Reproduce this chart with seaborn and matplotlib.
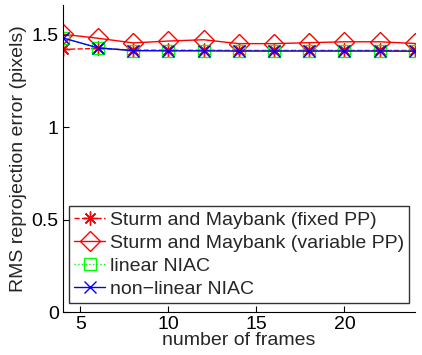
import matplotlib
matplotlib.use("Agg")
import matplotlib.pyplot as plt
import seaborn as sns
import pandas as pd

frames = [4, 6, 8, 10, 12, 14, 16, 18, 20, 22, 24]
fixed_pp = [1.420, 1.425, 1.416, 1.415, 1.415, 1.414, 1.414, 1.414, 1.414, 1.414, 1.414]
variable_pp = [1.502, 1.480, 1.455, 1.465, 1.472, 1.451, 1.451, 1.456, 1.461, 1.461, 1.452]
linear_niac = [1.480, 1.430, 1.413, 1.413, 1.412, 1.412, 1.412, 1.412, 1.412, 1.412, 1.411]
nonlinear_niac = [1.482, 1.428, 1.413, 1.412, 1.412, 1.411, 1.411, 1.411, 1.411, 1.411, 1.410]

labels = ["Sturm and Maybank (fixed PP)", "Sturm and Maybank (variable PP)",
          "linear NIAC", "non\u2212linear NIAC"]
x_ticks = [5, 10, 15, 20]
y_ticks = [0, 0.5, 1, 1.5]
y_ticklabels = ["0", "0.5", "1", "1.5"]

sns.set_theme(style="ticks")
plt.rcParams["font.family"] = ["Liberation Sans", "DejaVu Sans"]

fig = plt.figure(figsize=(4.22, 3.55), dpi=100)
ax = fig.add_axes([0.149, 0.121, 0.834, 0.865])

# (values, colour, line style, marker, marker size)
series = [
    (fixed_pp, "#ff0000", "--", (8, 2, 0), 10),
    (variable_pp, "#ff0000", "-", "D", 10),
    (linear_niac, "#00ff00", ":", "s", 9),
    (nonlinear_niac, "#0000ff", "-", "x", 8),
]
for vals, color, ls, mk, ms in series:
    df = pd.DataFrame({"frames": frames, "err": vals})
    sns.lineplot(data=df, x="frames", y="err", ax=ax, color=color,
                 linestyle=ls, marker=mk, markersize=ms, linewidth=1.0,
                 markerfacecolor="none", markeredgecolor=color,
                 markeredgewidth=1.0)

ax.set_xlim(4, 24)
ax.set_ylim(0, 1.66)
ax.set_xticks(x_ticks)
ax.set_xticklabels([str(t) for t in x_ticks])
ax.set_yticks(y_ticks)
ax.set_yticklabels(y_ticklabels)
ax.tick_params(direction="in", length=4, width=0.8, labelsize=14, colors="black", pad=3)
ax.set_xlabel("number of frames", fontsize=14, labelpad=-1)
ax.set_ylabel("RMS reprojection error (pixels)", fontsize=14, labelpad=3)
for side in ["top", "right"]:
    ax.spines[side].set_visible(False)
for side in ["left", "bottom"]:
    ax.spines[side].set_color("black")
    ax.spines[side].set_linewidth(0.8)

leg = ax.legend(ax.lines, labels, loc="lower left", bbox_to_anchor=(0.018, 0.03),
                fontsize=14, frameon=True, fancybox=False, handlelength=1.6,
                handletextpad=0.25, borderpad=0.25, labelspacing=0.28,
                borderaxespad=0)
leg.get_frame().set_edgecolor("black")
leg.get_frame().set_linewidth(1.0)

fig.savefig("out.png", dpi=100)
